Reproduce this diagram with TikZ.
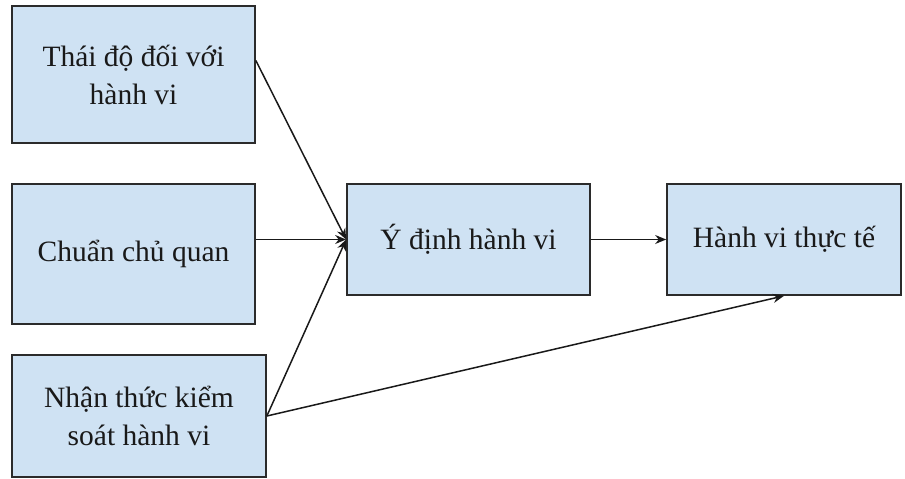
\documentclass[tikz,border=0pt]{standalone}
\usepackage{fontspec}
\setmainfont{Liberation Serif}
\usetikzlibrary{arrows.meta,calc}
\definecolor{boxfill}{HTML}{CFE2F3}
\definecolor{boxline}{HTML}{2B2B2B}
\tikzset{
  box/.style={draw=boxline, fill=boxfill, line width=1.7pt, rectangle, align=center,
    inner sep=0pt, font=\fontsize{29.5}{38}\selectfont, text=black!90},
  conn/.style={draw=black!90, line width=1.5pt, -{Stealth[length=11pt,width=9pt]}}
}
\begin{document}
\begin{tikzpicture}[x=1pt,y=-1pt]
\useasboundingbox (0,0) rectangle (905,479);
\node[box, minimum width=243pt, minimum height=137pt] (b1) at (133.5,74.5) {Thái độ đối với\\hành vi};
\node[box, minimum width=243pt, minimum height=140pt] (b2) at (133.5,254) {\raisebox{-4pt}{Chuẩn chủ quan}};
\node[box, minimum width=254pt, minimum height=122pt] (b3) at (139,416) {Nhận thức kiểm\\soát hành vi};
\node[box, minimum width=243pt, minimum height=111pt] (b4) at (468.5,239.5) {\raisebox{-3pt}{Ý định hành vi}};
\node[box, minimum width=234pt, minimum height=111pt] (b5) at (784,239.5) {\raisebox{-3pt}{Hành vi thực tế}};
\draw[conn] ($(b1.east)+(0,-14)$) -- (b4.west);
\draw[conn] (b2.east |- b4.west) -- (b4.west);
\draw[conn] (b3.east) -- (b4.west);
\draw[conn] (b3.east) -- (b5.south);
\draw[conn] (b4.east) -- (b5.west);
\end{tikzpicture}
\end{document}
